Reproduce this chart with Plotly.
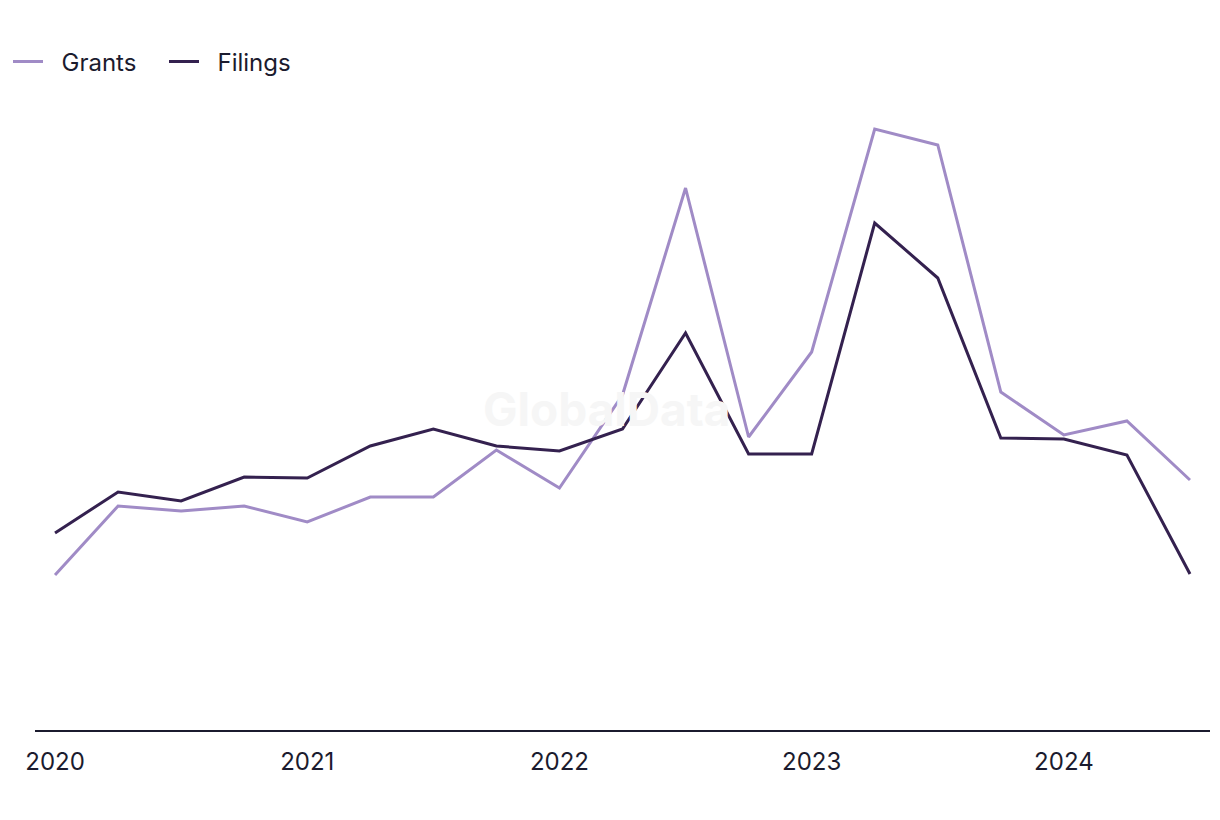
import plotly.graph_objects as go

quarters = [2020.0, 2020.25, 2020.5, 2020.75,
            2021.0, 2021.25, 2021.5, 2021.75,
            2022.0, 2022.25, 2022.5, 2022.75,
            2023.0, 2023.25, 2023.5, 2023.75,
            2024.0, 2024.25, 2024.5]
grants = [31.0, 44.8, 43.8, 44.8, 41.6, 46.6, 46.6, 56.0, 48.4, 67.0,
          108.4, 58.6, 75.6, 120.2, 117.0, 67.6, 59.0, 61.8, 50.0]
filings = [39.4, 47.6, 45.8, 50.6, 50.4, 56.8, 60.2, 56.8, 55.8, 60.2,
           79.4, 55.2, 55.2, 101.4, 90.4, 58.4, 58.2, 55.0, 31.2]
tick_vals = [2020, 2021, 2022, 2023, 2024]
tick_text = ["2020", "2021", "2022", "2023", "2024"]

TEXT = "#1b1b2e"
NB = "\u00a0\u00a0"
W, H = 1212, 812
fig = go.Figure()
fig.add_trace(go.Scatter(x=quarters, y=grants, mode="lines", name=NB + "Grants",
                         line=dict(color="#a08bc6", width=3)))
fig.add_trace(go.Scatter(x=quarters, y=filings, mode="lines", name=NB + "Filings",
                         line=dict(color="#34214f", width=3)))

fig.add_annotation(text="<b>GlobalData</b>", xref="paper", yref="paper",
                   x=0.487, y=0.51, showarrow=False,
                   font=dict(size=46, color="#f6f6f6", family="Inter"))

fig.update_layout(
    width=W, height=H,
    margin=dict(l=27, r=10, t=92, b=90, autoexpand=False),
    paper_bgcolor="white", plot_bgcolor="white",
    font=dict(family="Inter", color=TEXT, size=24),
    showlegend=True,
    legend=dict(orientation="h", xref="container", yref="container",
                x=-16 / W, y=1 - 54 / H, xanchor="left", yanchor="middle",
                font=dict(size=24, color=TEXT), itemwidth=30,
                entrywidth=111, tracegroupgap=0),
    xaxis=dict(range=[2020 - 20/252, 2024.5 + 20/252], tickvals=tick_vals,
               ticktext=tick_text, showgrid=False, zeroline=False,
               showline=True, linecolor=TEXT, linewidth=2, ticks="",
               automargin=False, ticklabelstandoff=9,
               tickfont=dict(size=24, color=TEXT)),
    yaxis=dict(range=[0, 126], showgrid=False, zeroline=False, automargin=False,
               showticklabels=False, showline=False, ticks=""),
)

fig.write_html("out.html")
